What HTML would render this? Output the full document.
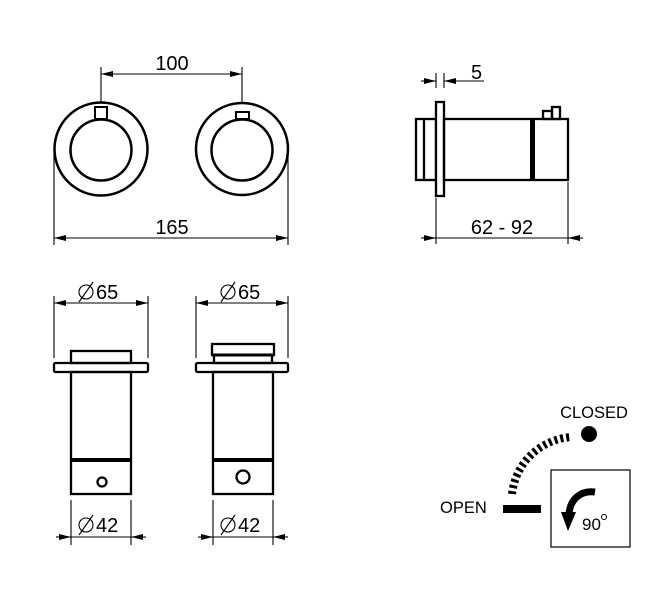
<!DOCTYPE html>
<html><head><meta charset="utf-8"><style>
html,body{margin:0;padding:0;background:#fff}
svg{display:block}
text{font-family:"Liberation Sans",Arial,sans-serif;fill:#000}
</style></head><body>
<svg width="668" height="601" viewBox="0 0 668 601" xmlns="http://www.w3.org/2000/svg">
<defs>
<marker id="a" viewBox="0 0 12 6" refX="12" refY="3" markerWidth="12" markerHeight="6" markerUnits="userSpaceOnUse" orient="auto-start-reverse"><path d="M0,0L12,3L0,6z" fill="#000"/></marker>
</defs>
<g fill="none" stroke="#000">
<circle cx="101" cy="149" r="46.5" stroke-width="2.5"/>
<circle cx="101" cy="150" r="30.5" stroke-width="2.5"/>
<rect x="95" y="107" width="12" height="12" stroke-width="2" fill="#fff"/>
<circle cx="242" cy="149" r="46" stroke-width="2.5"/>
<circle cx="242" cy="150" r="30.5" stroke-width="2.5"/>
<rect x="236" y="112" width="13" height="7" stroke-width="2" fill="#fff"/>
<g stroke-width="1.1">
<line x1="101" y1="67" x2="101" y2="103"/><line x1="242" y1="67" x2="242" y2="103"/>
<line x1="101" y1="74" x2="242" y2="74" marker-start="url(#a)" marker-end="url(#a)"/>
<line x1="54" y1="150" x2="54" y2="245"/><line x1="288" y1="150" x2="288" y2="245"/>
<line x1="54" y1="238" x2="288" y2="238" marker-start="url(#a)" marker-end="url(#a)"/>
</g>
<g stroke-width="2.3">
<rect x="416" y="119" width="20" height="61"/>
<line x1="424" y1="119" x2="424" y2="180"/>
<rect x="436" y="102" width="8" height="94" fill="#fff"/>
<rect x="444" y="119" width="124" height="61"/>
<rect x="543" y="111" width="9" height="8"/>
<rect x="552" y="107" width="8" height="12"/>
</g>
<rect x="530" y="119" width="5" height="61" fill="#000" stroke="none"/>
<g stroke-width="1.1">
<line x1="436" y1="73" x2="436" y2="88"/><line x1="444" y1="73" x2="444" y2="88"/>
<line x1="421" y1="81" x2="436" y2="81" marker-end="url(#a)"/>
<line x1="484" y1="81" x2="444" y2="81" marker-end="url(#a)"/>
<line x1="436" y1="198" x2="436" y2="244"/><line x1="568" y1="182" x2="568" y2="244"/>
<line x1="421" y1="238" x2="436" y2="238" marker-end="url(#a)"/>
<line x1="583" y1="238" x2="568" y2="238" marker-end="url(#a)"/>
<line x1="436" y1="238" x2="568" y2="238"/>
</g>
<g stroke-width="2.3">
<rect x="71" y="351" width="60" height="12"/>
<rect x="54" y="363" width="94" height="9" rx="1.5"/>
<rect x="71" y="372" width="60" height="122"/>
<circle cx="102" cy="482" r="4.5"/>
</g>
<rect x="71" y="458" width="60" height="4" fill="#000" stroke="none"/>
<g stroke-width="2.3">
<rect x="212" y="344" width="62" height="11"/>
<rect x="214" y="355" width="58" height="8"/>
<rect x="196" y="363" width="92" height="9" rx="1.5"/>
<rect x="213" y="372" width="60" height="122"/>
<circle cx="243" cy="477" r="6.5"/>
</g>
<rect x="212" y="353.5" width="62" height="3" fill="#000" stroke="none"/>
<rect x="213" y="458" width="60" height="4" fill="#000" stroke="none"/>
<g stroke-width="1.1">
<line x1="54" y1="296" x2="54" y2="358"/><line x1="148" y1="296" x2="148" y2="358"/>
<line x1="54" y1="303" x2="148" y2="303" marker-start="url(#a)" marker-end="url(#a)"/>
<line x1="196" y1="296" x2="196" y2="358"/><line x1="288" y1="296" x2="288" y2="358"/>
<line x1="196" y1="303" x2="288" y2="303" marker-start="url(#a)" marker-end="url(#a)"/>
<line x1="71" y1="500" x2="71" y2="545"/><line x1="131" y1="500" x2="131" y2="545"/>
<line x1="56" y1="537" x2="71" y2="537" marker-end="url(#a)"/>
<line x1="146" y1="537" x2="131" y2="537" marker-end="url(#a)"/>
<line x1="71" y1="537" x2="131" y2="537"/>
<line x1="213" y1="500" x2="213" y2="545"/><line x1="273" y1="500" x2="273" y2="545"/>
<line x1="198" y1="537" x2="213" y2="537" marker-end="url(#a)"/>
<line x1="288" y1="537" x2="273" y2="537" marker-end="url(#a)"/>
<line x1="213" y1="537" x2="273" y2="537"/>
<circle cx="86" cy="292" r="7"/><line x1="79" y1="302" x2="93" y2="282"/>
<circle cx="228" cy="292" r="7"/><line x1="221" y1="302" x2="235" y2="282"/>
<circle cx="86" cy="525" r="7"/><line x1="79" y1="535" x2="93" y2="515"/>
<circle cx="228" cy="525" r="7"/><line x1="221" y1="535" x2="235" y2="515"/>
</g>
<rect x="551" y="470" width="79" height="77" stroke-width="1.2"/>
<path d="M512,494 A64,64 0 0 1 572,437" stroke-width="8" stroke-dasharray="3 3"/>
<path d="M595,492 C580,490 570,500 569,514" stroke-width="7"/>
</g>
<circle cx="589" cy="434" r="8" fill="#000"/>
<rect x="503" y="505" width="38" height="8" fill="#000"/>
<path d="M561,512 L576,512 L568,531 Z" fill="#000"/>
<g font-size="20">
<text x="172" y="70" text-anchor="middle">100</text>
<text x="172" y="234" text-anchor="middle">165</text>
<text x="471" y="79">5</text>
<text x="502" y="234" text-anchor="middle">62 - 92</text>
<text x="96" y="299">65</text>
<text x="238" y="299">65</text>
<text x="96" y="532">42</text>
<text x="238" y="532">42</text>
</g>
<text x="594" y="418" font-size="16.5" text-anchor="middle">CLOSED</text>
<text x="440" y="513" font-size="16.5">OPEN</text>
<text x="582" y="530" font-size="17">90</text>
<circle cx="604" cy="517" r="2.5" fill="none" stroke="#000" stroke-width="1"/>
</svg>
</body></html>
